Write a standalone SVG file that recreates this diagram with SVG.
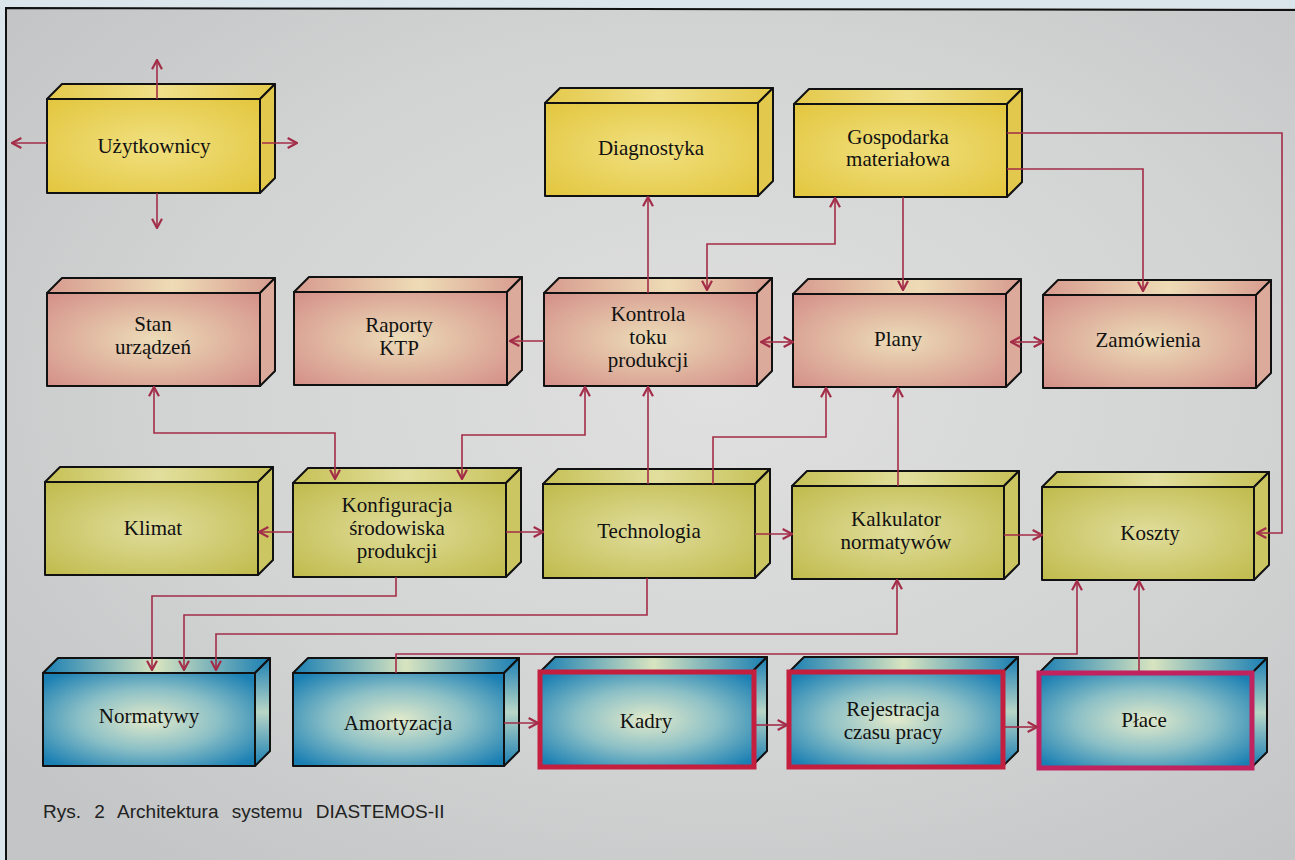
<svg xmlns="http://www.w3.org/2000/svg" width="1295" height="860" viewBox="0 0 1295 860">
<defs>
  <radialGradient id="bg" cx="0.55" cy="0.45" r="0.7">
    <stop offset="0" stop-color="#dfe0df"/>
    <stop offset="0.6" stop-color="#d2d3d3"/>
    <stop offset="1" stop-color="#c3c5c6"/>
  </radialGradient>
  <radialGradient id="yF" cx="0.5" cy="0.5" r="0.7">
    <stop offset="0" stop-color="#f0e080"/>
    <stop offset="1" stop-color="#e3c63e"/>
  </radialGradient>
  <linearGradient id="yT" x1="0" y1="0" x2="1" y2="0">
    <stop offset="0" stop-color="#e4c94a"/>
    <stop offset="0.5" stop-color="#f0e08a"/>
    <stop offset="1" stop-color="#e4c94a"/>
  </linearGradient>
  <radialGradient id="pF" cx="0.5" cy="0.5" r="0.7">
    <stop offset="0" stop-color="#ecdcb8"/>
    <stop offset="1" stop-color="#d48f88"/>
  </radialGradient>
  <linearGradient id="pT" x1="0" y1="0" x2="1" y2="0">
    <stop offset="0" stop-color="#d79b8f"/>
    <stop offset="0.55" stop-color="#eedcb6"/>
    <stop offset="1" stop-color="#d79b8f"/>
  </linearGradient>
  <radialGradient id="oF" cx="0.5" cy="0.5" r="0.7">
    <stop offset="0" stop-color="#e0dd9c"/>
    <stop offset="1" stop-color="#c0bb4c"/>
  </radialGradient>
  <linearGradient id="oT" x1="0" y1="0" x2="1" y2="0">
    <stop offset="0" stop-color="#c6c156"/>
    <stop offset="0.5" stop-color="#e2df9e"/>
    <stop offset="1" stop-color="#c6c156"/>
  </linearGradient>
  <radialGradient id="bF" cx="0.5" cy="0.5" r="0.65">
    <stop offset="0" stop-color="#e2eacb"/>
    <stop offset="0.5" stop-color="#8cc0c6"/>
    <stop offset="1" stop-color="#1a7fb3"/>
  </radialGradient>
  <linearGradient id="bT" x1="0" y1="0" x2="1" y2="0">
    <stop offset="0" stop-color="#1a7fb3"/>
    <stop offset="0.5" stop-color="#d8e4c0"/>
    <stop offset="1" stop-color="#1a7fb3"/>
  </linearGradient>
  <linearGradient id="bS" x1="0" y1="0" x2="0" y2="1">
    <stop offset="0" stop-color="#1a7fb3"/>
    <stop offset="0.5" stop-color="#b8d6c6"/>
    <stop offset="1" stop-color="#1a7fb3"/>
  </linearGradient>
  <marker id="ah" viewBox="0 0 10 10" refX="9.5" refY="5" markerWidth="11" markerHeight="13" markerUnits="userSpaceOnUse" orient="auto-start-reverse">
    <path d="M1,0.5 L9.5,5 L1,9.5" fill="none" stroke="#a32d48" stroke-width="2"/>
  </marker>
</defs>
<style>
  .edge { stroke:#111; stroke-width:2; stroke-linejoin:round; }
  .y .f { fill:url(#yF); } .y .t { fill:url(#yT); } .y .s { fill:#e2c84c; }
  .p .f { fill:url(#pF); } .p .t { fill:url(#pT); } .p .s { fill:#dcaa9a; }
  .o .f { fill:url(#oF); } .o .t { fill:url(#oT); } .o .s { fill:#cbc662; }
  .b .f { fill:url(#bF); } .b .t { fill:url(#bT); } .b .s { fill:url(#bS); }
  .red { fill:none; stroke:#c41f3e; stroke-width:5; }
  .mag { fill:none; stroke:#c0235e; stroke-width:5; }
  .lbl { fill:#111; text-anchor:middle; }
  .cap { fill:#222; }
  #connectors path { fill:none; stroke:#a32d48; stroke-width:1.6; }
</style>

<rect x="0" y="0" width="1295" height="860" fill="#dbe6ec"/>
<rect x="6" y="8" width="1289" height="852" fill="url(#bg)"/>
<path d="M6,860 L6,8 L1295,10" fill="none" stroke="#111" stroke-width="2"/>

<g font-family="Liberation Serif, Times New Roman, serif" font-size="21">
<!-- Row 1 -->
<g id="uzytkownicy" class="y">
  <polygon class="t edge" points="47,99 62,84 275,84 260,99"/>
  <polygon class="s edge" points="260,99 275,84 275,178 260,193"/>
  <rect class="f edge" x="47" y="99" width="213" height="94"/>
  <text class="lbl" x="154" y="153">Użytkownicy</text>
</g>
<g id="diagnostyka" class="y">
  <polygon class="t edge" points="545,103 560,88 773,88 758,103"/>
  <polygon class="s edge" points="758,103 773,88 773,181 758,196"/>
  <rect class="f edge" x="545" y="103" width="213" height="93"/>
  <text class="lbl" x="651" y="155">Diagnostyka</text>
</g>
<g id="gospodarka" class="y">
  <polygon class="t edge" points="794,104 809,89 1022,89 1007,104"/>
  <polygon class="s edge" points="1007,104 1022,89 1022,182 1007,197"/>
  <rect class="f edge" x="794" y="104" width="213" height="93"/>
  <text class="lbl" x="898" y="144">Gospodarka</text>
  <text class="lbl" x="898" y="166">materiałowa</text>
</g>

<!-- Row 2 -->
<g id="stan" class="p">
  <polygon class="t edge" points="47,293 62,278 275,278 260,293"/>
  <polygon class="s edge" points="260,293 275,278 275,371 260,386"/>
  <rect class="f edge" x="47" y="293" width="213" height="93"/>
  <text class="lbl" x="153" y="331">Stan</text>
  <text class="lbl" x="153" y="354">urządzeń</text>
</g>
<g id="raporty" class="p">
  <polygon class="t edge" points="294,292 309,277 522,277 507,292"/>
  <polygon class="s edge" points="507,292 522,277 522,370 507,385"/>
  <rect class="f edge" x="294" y="292" width="213" height="93"/>
  <text class="lbl" x="399" y="332">Raporty</text>
  <text class="lbl" x="399" y="355">KTP</text>
</g>
<g id="kontrola" class="p">
  <polygon class="t edge" points="544,293 559,278 772,278 757,293"/>
  <polygon class="s edge" points="757,293 772,278 772,371 757,386"/>
  <rect class="f edge" x="544" y="293" width="213" height="93"/>
  <text class="lbl" x="648" y="321">Kontrola</text>
  <text class="lbl" x="648" y="344">toku</text>
  <text class="lbl" x="648" y="367">produkcji</text>
</g>
<g id="plany" class="p">
  <polygon class="t edge" points="793,294 808,279 1021,279 1006,294"/>
  <polygon class="s edge" points="1006,294 1021,279 1021,372 1006,387"/>
  <rect class="f edge" x="793" y="294" width="213" height="93"/>
  <text class="lbl" x="898" y="346">Plany</text>
</g>
<g id="zamowienia" class="p">
  <polygon class="t edge" points="1043,295 1058,280 1271,280 1256,295"/>
  <polygon class="s edge" points="1256,295 1271,280 1271,373 1256,388"/>
  <rect class="f edge" x="1043" y="295" width="213" height="93"/>
  <text class="lbl" x="1148" y="347">Zamówienia</text>
</g>

<!-- Row 3 -->
<g id="klimat" class="o">
  <polygon class="t edge" points="45,482 60,467 273,467 258,482"/>
  <polygon class="s edge" points="258,482 273,467 273,560 258,575"/>
  <rect class="f edge" x="45" y="482" width="213" height="93"/>
  <text class="lbl" x="153" y="535">Klimat</text>
</g>
<g id="konfiguracja" class="o">
  <polygon class="t edge" points="293,483 308,468 521,468 506,483"/>
  <polygon class="s edge" points="506,483 521,468 521,562 506,577"/>
  <rect class="f edge" x="293" y="483" width="213" height="94"/>
  <text class="lbl" x="397" y="512">Konfiguracja</text>
  <text class="lbl" x="397" y="535">środowiska</text>
  <text class="lbl" x="397" y="558">produkcji</text>
</g>
<g id="technologia" class="o">
  <polygon class="t edge" points="543,484 558,469 770,469 755,484"/>
  <polygon class="s edge" points="755,484 770,469 770,563 755,578"/>
  <rect class="f edge" x="543" y="484" width="212" height="94"/>
  <text class="lbl" x="649" y="538">Technologia</text>
</g>
<g id="kalkulator" class="o">
  <polygon class="t edge" points="792,486 807,471 1019,471 1004,486"/>
  <polygon class="s edge" points="1004,486 1019,471 1019,564 1004,579"/>
  <rect class="f edge" x="792" y="486" width="212" height="93"/>
  <text class="lbl" x="896" y="526">Kalkulator</text>
  <text class="lbl" x="896" y="549">normatywów</text>
</g>
<g id="koszty" class="o">
  <polygon class="t edge" points="1042,487 1057,472 1269,472 1254,487"/>
  <polygon class="s edge" points="1254,487 1269,472 1269,565 1254,580"/>
  <rect class="f edge" x="1042" y="487" width="212" height="93"/>
  <text class="lbl" x="1150" y="540">Koszty</text>
</g>

<!-- Row 4 -->
<g id="normatywy" class="b">
  <polygon class="t edge" points="43,673 58,658 270,658 255,673"/>
  <polygon class="s edge" points="255,673 270,658 270,751 255,766"/>
  <rect class="f edge" x="43" y="673" width="212" height="93"/>
  <text class="lbl" x="149" y="723">Normatywy</text>
</g>
<g id="amortyzacja" class="b">
  <polygon class="t edge" points="293,673 308,658 519,658 504,673"/>
  <polygon class="s edge" points="504,673 519,658 519,751 504,766"/>
  <rect class="f edge" x="293" y="673" width="211" height="93"/>
  <text class="lbl" x="398" y="730">Amortyzacja</text>
</g>
<g id="kadry" class="b">
  <polygon class="t edge" points="540,672 555,657 767,657 752,672"/>
  <polygon class="s edge" points="752,672 767,657 767,751 752,766"/>
  <rect class="f" x="540" y="672" width="214" height="95"/>
  <rect class="red" x="540" y="672" width="214" height="95"/>
  <text class="lbl" x="646" y="728">Kadry</text>
</g>
<g id="rejestracja" class="b">
  <polygon class="t edge" points="789,672 804,657 1018,657 1003,672"/>
  <polygon class="s edge" points="1003,672 1018,657 1018,751 1003,766"/>
  <rect class="f" x="789" y="672" width="214" height="95"/>
  <rect class="red" x="789" y="672" width="214" height="95"/>
  <text class="lbl" x="893" y="716">Rejestracja</text>
  <text class="lbl" x="893" y="739">czasu pracy</text>
</g>
<g id="place" class="b">
  <polygon class="t edge" points="1039,673 1054,658 1267,658 1252,673"/>
  <polygon class="s edge" points="1252,673 1267,658 1267,752 1252,767"/>
  <rect class="f" x="1039" y="673" width="213" height="95"/>
  <rect class="mag" x="1039" y="673" width="213" height="95"/>
  <text class="lbl" x="1144" y="727">Płace</text>
</g>
</g>

<!-- Connectors -->
<g id="connectors">
  <path d="M157,99 L157,60" marker-end="url(#ah)"/>
  <path d="M47,143 L12,143" marker-end="url(#ah)"/>
  <path d="M262,143 L297,143" marker-end="url(#ah)"/>
  <path d="M157,193 L157,228" marker-end="url(#ah)"/>

  <path d="M648,293 L648,197" marker-end="url(#ah)"/>
  <path d="M835,198 L835,244 L707,244 L707,290" marker-start="url(#ah)" marker-end="url(#ah)"/>
  <path d="M903,197 L903,290" marker-end="url(#ah)"/>
  <path d="M1007,133 L1282,133 L1282,533 L1257,533" marker-end="url(#ah)"/>
  <path d="M1007,169 L1143,169 L1143,291" marker-end="url(#ah)"/>

  <path d="M544,341 L510,341" marker-end="url(#ah)"/>
  <path d="M761,342 L793,342" marker-start="url(#ah)" marker-end="url(#ah)"/>
  <path d="M1011,342 L1043,342" marker-start="url(#ah)" marker-end="url(#ah)"/>

  <path d="M154,387 L154,433 L335,433 L335,479" marker-start="url(#ah)" marker-end="url(#ah)"/>
  <path d="M462,479 L462,435 L585,435 L585,387" marker-start="url(#ah)" marker-end="url(#ah)"/>
  <path d="M648,484 L648,387" marker-end="url(#ah)"/>
  <path d="M713,484 L713,437 L826,437 L826,388" marker-end="url(#ah)"/>
  <path d="M898,486 L898,388" marker-end="url(#ah)"/>

  <path d="M293,532 L259,532" marker-end="url(#ah)"/>
  <path d="M506,532 L543,532" marker-end="url(#ah)"/>
  <path d="M755,534 L792,534" marker-end="url(#ah)"/>
  <path d="M1004,535 L1042,535" marker-end="url(#ah)"/>

  <path d="M396,577 L396,596 L152,596 L152,670" marker-end="url(#ah)"/>
  <path d="M647,578 L647,615 L184,615 L184,670" marker-end="url(#ah)"/>
  <path d="M897,580 L897,634 L216,634 L216,670" marker-start="url(#ah)" marker-end="url(#ah)"/>
  <path d="M396,673 L396,654 L1077,654 L1077,581" marker-end="url(#ah)"/>
  <path d="M1139,671 L1139,581" marker-end="url(#ah)"/>

  <path d="M504,723 L538,723" marker-end="url(#ah)"/>
  <path d="M756,725 L787,725" marker-end="url(#ah)"/>
  <path d="M1005,727 L1037,727" marker-end="url(#ah)"/>
</g>

<text class="cap" x="43" y="818" font-family="Liberation Sans, Arial, sans-serif" font-size="19" word-spacing="8">Rys. 2 Architektura systemu DIASTEMOS-II</text>
</svg>
